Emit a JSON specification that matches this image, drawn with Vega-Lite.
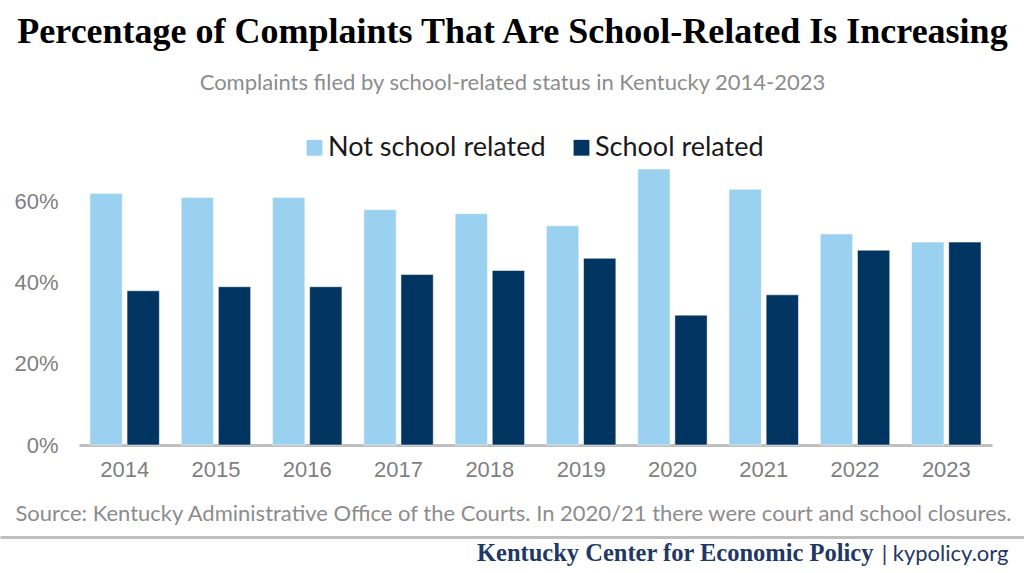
{
  "$schema": "https://vega.github.io/schema/vega-lite/v6.json",
  "width": 913,
  "height": 280,
  "autosize": {"type": "none"},
  "padding": {"left": 79, "right": 32, "top": 165, "bottom": 128},
  "background": "white",
  "config": {"view": {"stroke": null}},
  "title": {
    "text": "Percentage of Complaints That Are School-Related Is Increasing",
    "subtitle": "Complaints filed by school-related status in Kentucky 2014-2023",
    "anchor": "middle",
    "frame": "group",
    "dx": -23,
    "offset": 39,
    "font": "Liberation Serif",
    "fontSize": 36,
    "fontWeight": "bold",
    "color": "#000000",
    "subtitleFont": "Lato",
    "subtitleFontSize": 22,
    "subtitleColor": "#8c8c8c",
    "subtitlePadding": 22
  },
  "data": {
    "values": [
      {"year": "2014", "status": "Not school related", "pct": 0.62},
      {"year": "2014", "status": "School related", "pct": 0.38},
      {"year": "2015", "status": "Not school related", "pct": 0.61},
      {"year": "2015", "status": "School related", "pct": 0.39},
      {"year": "2016", "status": "Not school related", "pct": 0.61},
      {"year": "2016", "status": "School related", "pct": 0.39},
      {"year": "2017", "status": "Not school related", "pct": 0.58},
      {"year": "2017", "status": "School related", "pct": 0.42},
      {"year": "2018", "status": "Not school related", "pct": 0.57},
      {"year": "2018", "status": "School related", "pct": 0.43},
      {"year": "2019", "status": "Not school related", "pct": 0.54},
      {"year": "2019", "status": "School related", "pct": 0.46},
      {"year": "2020", "status": "Not school related", "pct": 0.68},
      {"year": "2020", "status": "School related", "pct": 0.32},
      {"year": "2021", "status": "Not school related", "pct": 0.63},
      {"year": "2021", "status": "School related", "pct": 0.37},
      {"year": "2022", "status": "Not school related", "pct": 0.52},
      {"year": "2022", "status": "School related", "pct": 0.48},
      {"year": "2023", "status": "Not school related", "pct": 0.5},
      {"year": "2023", "status": "School related", "pct": 0.5}
    ]
  },
  "layer": [
    {
      "mark": {"type": "bar", "stroke": "#ffffff", "strokeWidth": 1, "strokeOpacity": 0.5},
      "encoding": {
        "x": {
          "field": "year",
          "type": "nominal",
          "scale": {"paddingInner": 0.24, "paddingOuter": 0.12},
          "axis": {
            "labelAngle": 0,
            "labelFont": "Liberation Sans",
            "labelFontSize": 22,
            "labelColor": "#7f7f7f",
            "labelPadding": 14,
            "ticks": false,
            "domainColor": "#bfbfbf",
            "domainWidth": 3,
            "title": "Source: Kentucky Administrative Office of the Courts. In 2020/21 there were court and school closures.",
            "titleFont": "Lato",
            "titleFontSize": 22,
            "titleFontWeight": "normal",
            "titleColor": "#8c8c8c",
            "titleX": 434,
            "titleY": 75,
            "titleAlign": "center",
            "titleBaseline": "alphabetic"
          }
        },
        "xOffset": {
          "field": "status",
          "type": "nominal",
          "scale": {"paddingInner": 0.13}
        },
        "y": {
          "field": "pct",
          "type": "quantitative",
          "scale": {"domain": [0, 0.69]},
          "axis": {
            "format": ".0%",
            "values": [0, 0.2, 0.4, 0.6],
            "grid": false,
            "domain": false,
            "ticks": false,
            "labelFont": "Liberation Sans",
            "labelFontSize": 22,
            "labelColor": "#7f7f7f",
            "labelPadding": 21,
            "title": "| kypolicy.org",
            "titleAngle": 0,
            "titleFont": "Lato",
            "titleFontSize": 22,
            "titleFontWeight": "normal",
            "titleColor": "#1f3864",
            "titleX": 929,
            "titleY": 395,
            "titleAlign": "right",
            "titleBaseline": "alphabetic"
          }
        },
        "color": {
          "field": "status",
          "type": "nominal",
          "scale": {"domain": ["Not school related", "School related"], "range": ["#9ad0f0", "#003461"]},
          "legend": {
            "orient": "none",
            "direction": "horizontal",
            "legendX": 222,
            "legendY": -31,
            "title": null,
            "padding": 0,
            "symbolType": "square",
            "symbolSize": 250,
            "symbolStrokeWidth": 0,
            "symbolOpacity": 1,
            "labelFont": "Lato",
            "labelFontSize": 27,
            "labelColor": "#1a1a1a",
            "labelOffset": 0,
            "columnPadding": 22,
            "labelLimit": 400
          }
        }
      }
    },
    {
      "mark": {"type": "point", "opacity": 0},
      "encoding": {
        "x": {
          "field": "year",
          "type": "nominal",
          "scale": {"range": [-79, 945]},
          "axis": {
            "orient": "bottom",
            "offset": 92,
            "labels": false,
            "ticks": false,
            "domainColor": "#bfbfbf",
            "domainWidth": 3,
            "title": "Kentucky Center for Economic Policy",
            "titleFont": "Liberation Serif",
            "titleFontSize": 24.5,
            "titleFontWeight": "bold",
            "titleColor": "#1f3864",
            "titleX": 794,
            "titleY": 23,
            "titleAlign": "right",
            "titleBaseline": "alphabetic"
          }
        }
      }
    }
  ],
  "resolve": {"scale": {"x": "independent"}, "axis": {"x": "independent"}}
}
